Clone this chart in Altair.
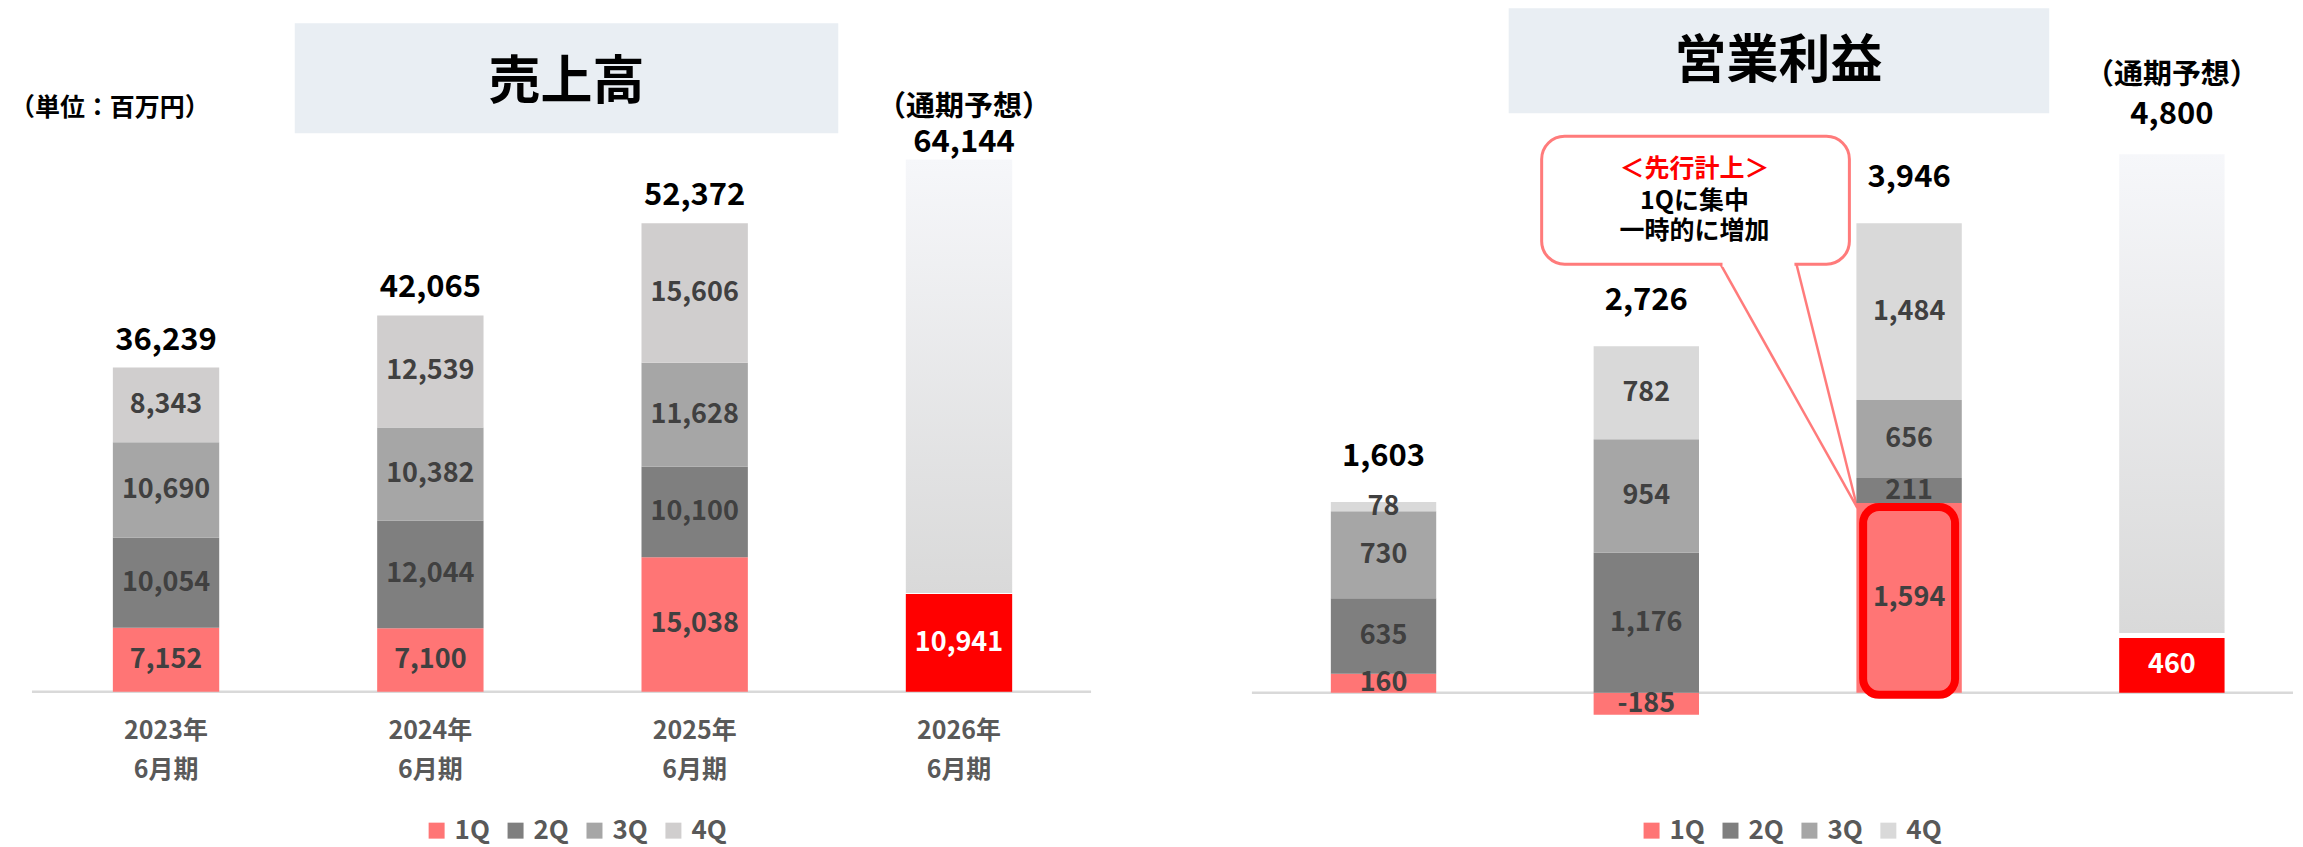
import altair as alt
import pandas as pd

# ---------------- data ----------------
years = ["2023年 6月期", "2024年 6月期", "2025年 6月期", "2026年 6月期"]
quarters = ["1Q", "2Q", "3Q", "4Q"]

sales_1q = [7152, 7100, 15038]
sales_2q = [10054, 12044, 10100]
sales_3q = [10690, 10382, 11628]
sales_4q = [8343, 12539, 15606]
sales_total = [36239, 42065, 52372]
sales_fc_1q = 10941
sales_fc_total = 64144
sales_fc_bar = 59500      # drawn height of the forecast bar (not to scale in source)

op_1q = [160, -185, 1594]
op_2q = [635, 1176, 211]
op_3q = [730, 954, 656]
op_4q = [78, 782, 1484]
op_total = [1603, 2726, 3946]
op_fc_1q = 460
op_fc_total = 4800
op_fc_bar = 4525          # drawn height of the forecast bar (not to scale in source)

FONT = "Noto Sans CJK JP"
H = 708
one = pd.DataFrame({"k": [0]})


def fmt(v):
    return f"{v:,}"


def vtext(x, y, s, **kw):
    return alt.Chart(one).mark_text(text=s, **kw).encode(x=alt.value(x), y=alt.value(y))


def vrect(x, x2, y, y2, **kw):
    return alt.Chart(one).mark_rect(**kw).encode(
        x=alt.value(x), x2=alt.value(x2), y=alt.value(y), y2=alt.value(y2))


def vrule(x, x2, y, y2, **kw):
    return alt.Chart(one).mark_rule(**kw).encode(
        x=alt.value(x), x2=alt.value(x2), y=alt.value(y), y2=alt.value(y2))


def panel(qlists, totals, fc_1q, fc_total, fc_bar, ydom, colors, W, xscale,
          total_dy, fc_dy, fc_head_dy, fc_dx, fc_gap, rule_x, legend_x,
          extras_back, extras_front):
    rows = []
    for qi, (q, vals) in enumerate(zip(quarters, qlists)):
        for yr, v in zip(years[:3], vals):
            rows.append({"year": yr, "q": q, "qi": qi, "v": v, "lbl": fmt(v)})
    df = pd.DataFrame(rows)
    # total label sits above the top of the positive part of each stack
    pos_top = [sum(max(0, ql[i]) for ql in qlists) for i in range(3)]
    tot = pd.DataFrame({"year": years[:3], "top": pos_top,
                        "lbl": [fmt(t) for t in totals]})
    fc = pd.DataFrame({"year": [years[3]], "q1": [fc_1q], "top": [fc_bar],
                       "zero": [0], "mid": [fc_1q / 2],
                       "lbl1": [fmt(fc_1q)], "lblt": [fmt(fc_total)]})

    yscale = alt.Scale(domain=ydom, zero=False, nice=False)
    xaxis = alt.Axis(title=None, labelAngle=0, domain=False, ticks=False,
                     labelFontSize=25, labelColor="#595959", labelFontWeight="bold",
                     labelPadding=3, labelLineHeight=39, labelBaseline="top",
                     labelExpr="split(datum.label, ' ')", labelFont=FONT)
    xenc = alt.X("year:N", scale=alt.Scale(domain=years, **xscale), axis=xaxis)

    stacked = alt.Chart(df).transform_stack(
        stack="v", groupby=["year"], as_=["v0", "v1"],
        sort=[alt.SortField("qi", order="ascending")]
    ).transform_calculate(mid="(datum.v0 + datum.v1) / 2")

    bars = stacked.mark_bar().encode(
        x=xenc,
        y=alt.Y("v0:Q", scale=yscale, axis=None),
        y2="v1:Q",
        color=alt.Color("q:N", scale=alt.Scale(domain=quarters, range=colors),
                        legend=alt.Legend(orient="none", legendX=legend_x, legendY=810,
                                          direction="horizontal", columns=4, title=None,
                                          symbolType="square", symbolSize=256,
                                          symbolStrokeWidth=0, labelFontSize=26,
                                          labelColor="#595959", labelFontWeight="bold",
                                          labelFont=FONT, labelOffset=5,
                                          columnPadding=12, padding=0)),
    )
    seg_labels = stacked.mark_text(fontSize=27, fontWeight="bold", color="#404040",
                                   baseline="middle", font=FONT).encode(
        x=xenc, y=alt.Y("mid:Q", scale=yscale, axis=None), text="lbl:N")

    tot_labels = alt.Chart(tot).mark_text(fontSize=31, fontWeight="bold", color="#000000",
                                          baseline="middle", dy=total_dy, font=FONT).encode(
        x=xenc, y=alt.Y("top:Q", scale=yscale, axis=None), text="lbl:N")

    grad = alt.Gradient(gradient="linear",
                        stops=[alt.GradientStop(color="#F6F7FA", offset=0),
                               alt.GradientStop(color="#D9D9D9", offset=1)],
                        x1=0, x2=0, y1=0, y2=1)
    fc_gray = alt.Chart(fc).mark_bar(color=grad, y2Offset=-fc_gap).encode(
        x=xenc, y=alt.Y("top:Q", scale=yscale, axis=None), y2="q1:Q")
    fc_red = alt.Chart(fc).mark_bar(color="#FF0000").encode(
        x=xenc, y=alt.Y("q1:Q", scale=yscale, axis=None), y2="zero:Q")
    fc_lbl1 = alt.Chart(fc).mark_text(fontSize=27, fontWeight="bold", color="white",
                                      baseline="middle", font=FONT).encode(
        x=xenc, y=alt.Y("mid:Q", scale=yscale, axis=None), text="lbl1:N")
    fc_lblt = alt.Chart(fc).mark_text(fontSize=31, fontWeight="bold", color="#000000",
                                      baseline="middle", dy=fc_dy, dx=fc_dx, font=FONT).encode(
        x=xenc, y=alt.Y("top:Q", scale=yscale, axis=None), text="lblt:N")
    fc_head = alt.Chart(fc).mark_text(text="（通期予想）", fontSize=29,
                                      fontWeight="bold", color="#000000", baseline="middle",
                                      dy=fc_head_dy, dx=fc_dx, font=FONT).encode(
        x=xenc, y=alt.Y("top:Q", scale=yscale, axis=None))

    base_rule = alt.Chart(one).mark_rule(color="#D9D9D9", strokeWidth=2.5).encode(
        x=alt.value(rule_x[0]), x2=alt.value(rule_x[1]),
        y=alt.datum(0, scale=yscale, axis=None))

    layers = list(extras_back) + [base_rule, bars, fc_gray, fc_red] + \
        list(extras_front) + [seg_labels, tot_labels, fc_lbl1, fc_lblt, fc_head]
    return alt.layer(*layers).properties(width=W, height=H)


# ---------------- left panel: 売上高 ----------------
WL = 1110
left_back = [
    vrect(287, 831, 15, 125, color="#E9EEF3"),
    vtext(559, 75, "売上高", fontSize=52, fontWeight="bold", color="#000000",
          baseline="middle", align="center", font=FONT),
    vtext(2, 100, "（単位：百万円）", fontSize=25, fontWeight="bold", color="#000000",
          baseline="middle", align="left", font=FONT),
]
left = panel([sales_1q, sales_2q, sales_3q, sales_4q], sales_total,
             sales_fc_1q, sales_fc_total, sales_fc_bar,
             [-2680, 76382], ["#FF7575", "#7F7F7F", "#A6A6A6", "#D0CECE"],
             WL, dict(paddingInner=0.5976, paddingOuter=0.3967),
             total_dy=-27, fc_dy=-16, fc_head_dy=-52, fc_dx=5, fc_gap=1,
             rule_x=(24, 1084), legend_x=416,
             extras_back=left_back, extras_front=[])

# ---------------- right panel: 営業利益 ----------------
WR = 1059
hl_df = pd.DataFrame({"year": [years[2]], "top": [op_1q[2]], "zero": [0]})
yscale_r = alt.Scale(domain=[-193, 5751], zero=False, nice=False)
xscale_r = dict(paddingInner=0.599, paddingOuter=0.3127, align=0.5836)
highlight = alt.Chart(hl_df).mark_bar(width=92, fill="#FF7575", stroke="#FF0000",
                                      strokeWidth=8, cornerRadius=16,
                                      yOffset=4, y2Offset=2).encode(
    x=alt.X("year:N", scale=alt.Scale(domain=years, **xscale_r), axis=None),
    y=alt.Y("top:Q", scale=yscale_r, axis=None), y2="zero:Q")

right_back = [
    vrect(274, 815, 0, 105, color="#E9EEF3"),
    vtext(544, 54, "営業利益", fontSize=52, fontWeight="bold", color="#000000",
          baseline="middle", align="center", font=FONT),
    vrule(486, 623, 256, 500, color="#FF7B7B", strokeWidth=2.5),
    vrule(562, 623, 256, 500, color="#FF7B7B", strokeWidth=2.5),
    vrect(307, 615, 128, 256, fill="white", stroke="#FF7B7B", strokeWidth=3, cornerRadius=23),
    vrule(488, 560, 256, 256, color="white", strokeWidth=5),
    vtext(460, 161, "＜先行計上＞", fontSize=25, fontWeight="bold", color="#FF0000",
          baseline="middle", align="center", font=FONT),
    vtext(460, 193, "1Qに集中", fontSize=25, fontWeight="bold", color="#000000",
          baseline="middle", align="center", font=FONT),
    vtext(460, 223, "一時的に増加", fontSize=25, fontWeight="bold", color="#000000",
          baseline="middle", align="center", font=FONT),
]
right = panel([op_1q, op_2q, op_3q, op_4q], op_total,
              op_fc_1q, op_fc_total, op_fc_bar,
              [-193, 5751], ["#FF7575", "#7F7F7F", "#A6A6A6", "#D9D9D9"],
              WR, xscale_r,
              total_dy=-45, fc_dy=-39, fc_head_dy=-79, fc_dx=0, fc_gap=5,
              rule_x=(17, 1059), legend_x=404,
              extras_back=right_back, extras_front=[highlight])

chart = alt.hconcat(left, right, spacing=118).resolve_scale(
    color="independent", x="independent", y="independent"
).resolve_legend(color="independent").properties(
    padding=0
).configure(font=FONT).configure_view(stroke=None)

chart.save("out.html", embed_options={"renderer": "svg", "actions": False})
